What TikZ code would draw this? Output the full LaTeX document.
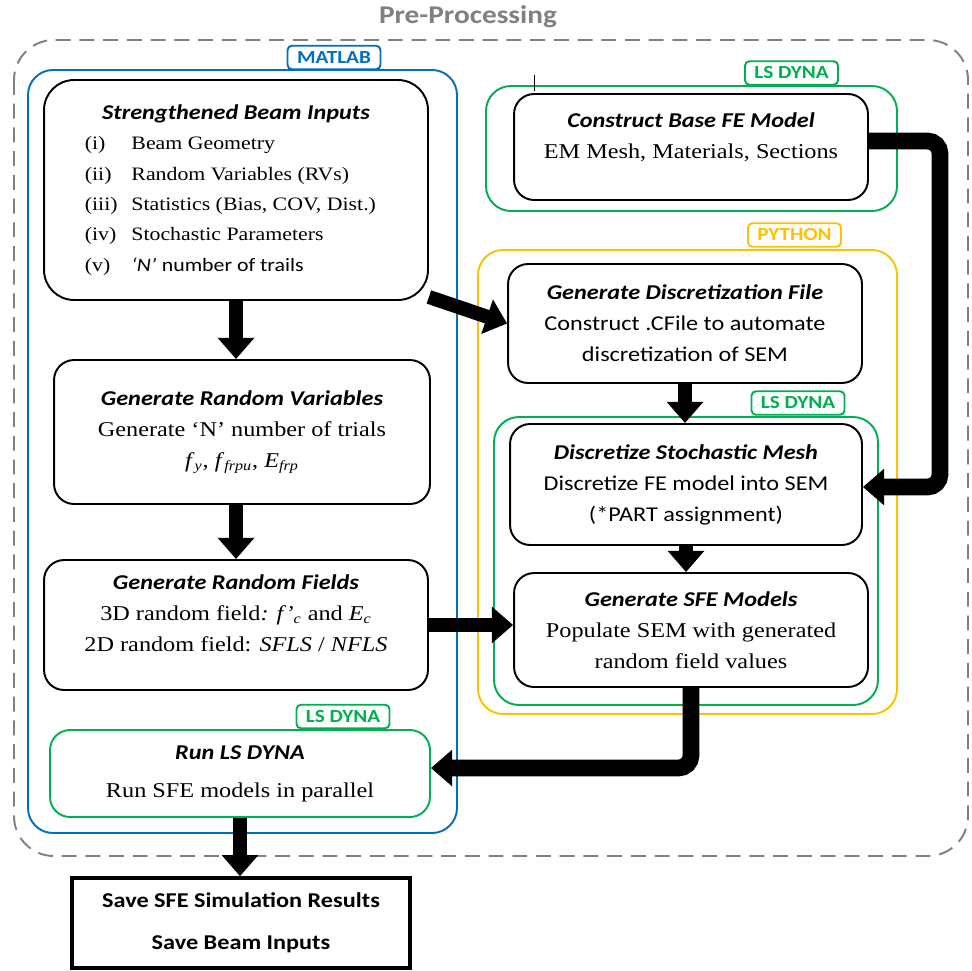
\documentclass[tikz,border=0pt]{standalone}
\usepackage{fontspec}
\setmainfont[FakeStretch=1.15]{Liberation Serif}
\newfontfamily\calfont[FakeStretch=1.15]{Carlito}
\usetikzlibrary{arrows.meta}

\definecolor{matblue}{RGB}{0,112,192}
\definecolor{dynagreen}{RGB}{0,176,80}
\definecolor{pyyellow}{RGB}{255,192,0}
\definecolor{ppgray}{RGB}{128,128,128}

\newcommand{\boxhead}[1]{{\calfont\bfseries\itshape\fontsize{12}{17.6}\selectfont #1}}
\newcommand{\inrow}[2]{\makebox[172pt][l]{\makebox[26.5pt][l]{#1}#2}}

\tikzset{
    procbox/.style={draw, line width=1.1pt, rounded corners=0.4cm, align=center, fill=white,
        font=\fontsize{12}{17.6}\selectfont},
    grpline/.style={line width=1.1pt, rounded corners=0.5cm},
    tagbox/.style={draw=#1, text=#1, fill=white, line width=1.1pt, rounded corners=2.5pt, minimum width=1.86cm,
        minimum height=0.47cm, inner sep=0pt, font=\calfont\bfseries\fontsize{10.5}{12}\selectfont},
    fatarrow/.style={line width=8pt, -{Triangle[width=20pt,length=12pt]}},
}

\begin{document}
\begin{tikzpicture}[x=0.02cm, y=-0.02cm]
\useasboundingbox (0,0) rectangle (972,970);

% pre-processing frame
\draw[ppgray, line width=1.1pt, dash pattern=on 8.5pt off 5pt, rounded corners=0.8cm] (14,40) rectangle (968,856);
\node[text=ppgray, font=\calfont\bfseries\fontsize{14.5}{16}\selectfont] (pretitle) at (468,17) {Pre-Processing};

% tool groups
\draw[grpline, matblue] (28,70) rectangle (457,833);
\draw[grpline, dynagreen] (486,86) rectangle (897,211);
\draw[grpline, pyyellow] (478,250) rectangle (897,714);
\draw[grpline, dynagreen] (494,417) rectangle (878,705);
\draw[line width=0.5pt] (534,75) -- (534,91);

\node[tagbox=matblue] (tagmat) at (334,57.5) {MATLAB};
\node[tagbox=dynagreen] (tagdyna) at (791.5,73) {LS DYNA};
\node[tagbox=pyyellow] (tagpy) at (794.5,235) {PYTHON};
\node[tagbox=dynagreen] (tagdynb) at (798,403) {LS DYNA};
\node[tagbox=dynagreen] (tagdync) at (343,716.5) {LS DYNA};

% MATLAB side
\node[procbox, rounded corners=0.6cm, minimum width=7.68cm, minimum height=4.4cm,
    font=\fontsize{10.8}{17.3}\selectfont] (sbi) at (236,190) {\boxhead{Strengthened Beam Inputs}\\
    \inrow{(i)}{Beam Geometry}\\
    \inrow{(ii)}{Random Variables (RVs)}\\
    \inrow{(iii)}{Statistics (Bias, COV, Dist.)}\\
    \inrow{(iv)}{Stochastic Parameters}\\
    \inrow{(v)}{{\calfont\itshape ‘N’} {\calfont number of trails}}};

\node[procbox, minimum width=7.52cm, minimum height=2.88cm] (grv) at (242,432) {\boxhead{Generate Random Variables}\\
    Generate ‘N’ number of trials\\
    \textit{f}\textsubscript{\textit{y}}, \textit{f}\textsubscript{\textit{frpu}}, \textit{E}\textsubscript{\textit{frp}}};

\node[procbox, minimum width=7.68cm, minimum height=2.6cm] (grf) at (236,625) {};
\node[align=center, font=\fontsize{12}{17.6}\selectfont] (grftxt) at (236,613) {\boxhead{Generate Random Fields}\\
    3D random field\textit{: f’}\textsubscript{\textit{c}} and \textit{E}\textsubscript{\textit{c}}\\
    2D random field: \textit{SFLS} / \textit{NFLS}};

\node[procbox, draw=dynagreen, minimum width=7.6cm, minimum height=1.74cm] (runls) at (240,773.5) {\boxhead{Run LS DYNA}\\[4pt]
    Run SFE models in parallel};

\node[draw, line width=2pt, minimum width=6.76cm, minimum height=1.8cm, align=center,
    font=\calfont\bfseries\fontsize{12}{17.6}\selectfont] (save) at (241,923) {Save SFE Simulation Results\\[6.4pt]Save Beam Inputs};

% LS DYNA / PYTHON side
\node[procbox, minimum width=7.08cm, minimum height=2.12cm] (cbase) at (691,147) {};
\node[align=center, font=\fontsize{12}{17.6}\selectfont] (cbasetxt) at (691,137) {\boxhead{Construct Base FE Model}\\
    EM Mesh, Materials, Sections};

\node[procbox, minimum width=7.08cm, minimum height=2.38cm, font=\calfont\fontsize{12}{17.6}\selectfont] (gdf) at (685,323.5) {\boxhead{Generate Discretization File}\\
    Construct .CFile to automate\\
    discretization of SEM};

\node[procbox, minimum width=7.04cm, minimum height=2.42cm, font=\calfont\fontsize{12}{17.6}\selectfont] (dsm) at (686,484.5) {\boxhead{Discretize Stochastic Mesh}\\
    Discretize FE model into SEM\\
    (*PART assignment)};

\node[procbox, minimum width=7.08cm, minimum height=2.28cm] (sfe) at (691,630) {\boxhead{Generate SFE Models}\\
    Populate SEM with generated\\
    random field values};

% arrows
\draw[fatarrow] (sbi.south) -- (sbi.south |- grv.north);
\draw[fatarrow] (sbi.-29) -- (gdf.west);
\draw[fatarrow] (grv.south -| grf.north) -- (grf.north);
\draw[fatarrow] (grf.east) -- (grf.east -| sfe.west);
\draw[fatarrow] (gdf.south) -- (gdf.south |- dsm.north);
\draw[fatarrow] (dsm.south) -- (dsm.south |- sfe.north);
\draw[fatarrow] (runls.south) -- (runls.south |- save.north);

\coordinate (rbend) at (940,487);
\draw[fatarrow, line width=9.5pt, rounded corners=0.25cm] ([yshift=0.12cm]cbase.east) -| (rbend) -- (dsm.east |- rbend);
\coordinate (lbend) at (691,768);
\draw[fatarrow, line width=9.5pt, rounded corners=0.25cm] (sfe.south) -- (lbend) -- (runls.east |- lbend);

\end{tikzpicture}
\end{document}
